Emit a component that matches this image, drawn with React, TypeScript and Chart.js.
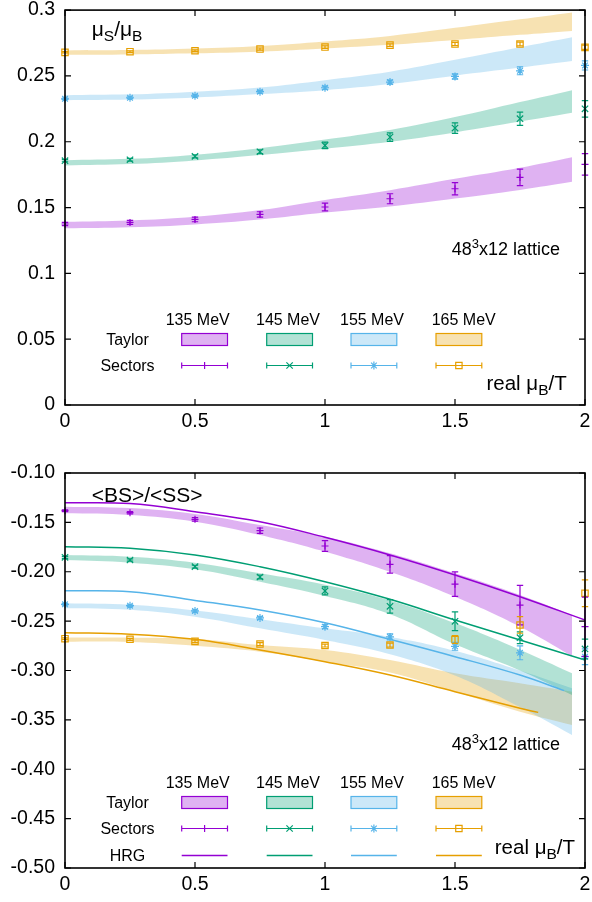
import React, { useEffect, useRef } from "react";
import { Chart, registerables } from "chart.js";
import { drawPoint } from "chart.js/helpers";
Chart.register(...registerables);

const FONT = '"Liberation Sans", Arial, Helvetica, sans-serif';

// ---------- shared categories ----------
const TEMPS = ["135 MeV", "145 MeV", "155 MeV", "165 MeV"];
const COLORS = ["#9400D3", "#009E73", "#56B4E9", "#E69F00"];
const FILLS = ["rgba(148,0,211,0.3)", "rgba(0,158,115,0.3)", "rgba(86,180,233,0.3)", "rgba(230,159,0,0.3)"];
const MARKERS = ["cross", "crossRot", "star", "rect"];
const MARKER_R = [3.5, 4.5, 4, 4.5];

const X_TICKS = [0, 0.5, 1, 1.5, 2];
const X_TICK_LABELS = ["0", "0.5", "1", "1.5", "2"];
const TOP_Y_TICKS = [0, 0.05, 0.1, 0.15, 0.2, 0.25, 0.3];
const TOP_Y_LABELS = ["0", "0.05", "0.1", "0.15", "0.2", "0.25", "0.3"];
const BOT_Y_TICKS = [-0.5, -0.45, -0.4, -0.35, -0.3, -0.25, -0.2, -0.15, -0.1];
const BOT_Y_LABELS = ["-0.50", "-0.45", "-0.40", "-0.35", "-0.30", "-0.25", "-0.20", "-0.15", "-0.10"];

const MU = [0, 0.25, 0.5, 0.75, 1, 1.25, 1.5, 1.75, 2];
const BAND_X = [0, 0.25, 0.5, 0.75, 1, 1.25, 1.5, 1.75, 1.95];

// ---------- top panel: mu_S / mu_B ----------
const RATIO_SECT_135 = [0.1375, 0.1387, 0.141, 0.1448, 0.1504, 0.1567, 0.1643, 0.1729, 0.1828];
const RATIO_ERR_135 = [0.0012, 0.0015, 0.0018, 0.002, 0.003, 0.0038, 0.0046, 0.0063, 0.0081];
const RATIO_SECT_145 = [0.1856, 0.1863, 0.1889, 0.1924, 0.1972, 0.2035, 0.2104, 0.2175, 0.225];
const RATIO_ERR_145 = [0.0008, 0.001, 0.0012, 0.0015, 0.0025, 0.0033, 0.004, 0.005, 0.0063];
const RATIO_SECT_155 = [0.2326, 0.2334, 0.2349, 0.238, 0.241, 0.2453, 0.2496, 0.2539, 0.258];
const RATIO_ERR_155 = [0.0006, 0.0007, 0.0008, 0.001, 0.0012, 0.0015, 0.002, 0.003, 0.0035];
const RATIO_SECT_165 = [0.2679, 0.2684, 0.2691, 0.2704, 0.2719, 0.2734, 0.2742, 0.2742, 0.2717];
const RATIO_ERR_165 = [0.0005, 0.0006, 0.0007, 0.0008, 0.001, 0.001, 0.0012, 0.0014, 0.0016];

const RATIO_LO_135 = [0.1342, 0.135, 0.1372, 0.1409, 0.1462, 0.1508, 0.1568, 0.1634, 0.1696];
const RATIO_HI_135 = [0.1392, 0.1402, 0.143, 0.1481, 0.1558, 0.1632, 0.1718, 0.1802, 0.1882];
const RATIO_LO_145 = [0.182, 0.183, 0.1858, 0.1899, 0.1947, 0.2, 0.2071, 0.2153, 0.222];
const RATIO_HI_145 = [0.186, 0.187, 0.1902, 0.1951, 0.2017, 0.209, 0.2187, 0.2301, 0.2392];
const RATIO_LO_155 = [0.2316, 0.232, 0.2336, 0.2362, 0.2392, 0.2438, 0.2502, 0.2563, 0.2613];
const RATIO_HI_155 = [0.2354, 0.236, 0.238, 0.2412, 0.2468, 0.2532, 0.2622, 0.2717, 0.2793];
const RATIO_LO_165 = [0.266, 0.2663, 0.2672, 0.2684, 0.2708, 0.2736, 0.2773, 0.2812, 0.2842];
const RATIO_HI_165 = [0.2694, 0.2697, 0.2708, 0.2728, 0.2762, 0.2804, 0.2865, 0.293, 0.2982];

// ---------- bottom panel: <BS>/<SS> ----------
const BS_SECT_135 = [-0.1382, -0.1402, -0.1469, -0.1584, -0.1739, -0.1925, -0.2126, -0.2337, -0.2556];
const BS_ERR_135 = [0.001, 0.0012, 0.0018, 0.0027, 0.0054, 0.0088, 0.0124, 0.02, 0.03];
const BS_SECT_145 = [-0.1854, -0.1881, -0.1949, -0.2053, -0.2194, -0.235, -0.2502, -0.2668, -0.2782];
const BS_ERR_145 = [0.001, 0.0012, 0.0015, 0.002, 0.004, 0.0068, 0.0095, 0.006, 0.01];
const BS_SECT_155 = [-0.233, -0.2344, -0.2397, -0.2468, -0.2556, -0.266, -0.2755, -0.2821, -0.286];
const BS_ERR_155 = [0.0008, 0.001, 0.0012, 0.0015, 0.002, 0.003, 0.004, 0.007, 0.008];
const BS_SECT_165 = [-0.2678, -0.2684, -0.2705, -0.2732, -0.2747, -0.2742, -0.2686, -0.2539, -0.2218];
const BS_ERR_165 = [0.0008, 0.001, 0.0012, 0.0015, 0.0015, 0.002, 0.004, 0.0084, 0.0135];

const BS_HI_135 = [-0.1341, -0.1355, -0.1415, -0.1527, -0.1645, -0.1813, -0.2016, -0.2235, -0.2438];
const BS_LO_135 = [-0.1408, -0.1425, -0.1493, -0.1628, -0.1797, -0.2, -0.2253, -0.2556, -0.2853];
const BS_HI_145 = [-0.183, -0.1847, -0.1908, -0.2016, -0.2131, -0.229, -0.252, -0.279, -0.3029];
const BS_LO_145 = [-0.1881, -0.1908, -0.1975, -0.2101, -0.2245, -0.243, -0.2735, -0.3, -0.3248];
const BS_HI_155 = [-0.232, -0.2335, -0.2392, -0.248, -0.2573, -0.266, -0.28, -0.3, -0.318];
const BS_LO_155 = [-0.237, -0.2385, -0.2455, -0.2573, -0.2691, -0.2835, -0.305, -0.337, -0.3653];
const BS_HI_165 = [-0.2668, -0.2668, -0.268, -0.2742, -0.2792, -0.2894, -0.3029, -0.313, -0.3215];
const BS_LO_165 = [-0.2708, -0.2712, -0.275, -0.281, -0.2911, -0.302, -0.3215, -0.3417, -0.3552];

const HRG_X_135 = [0, 0.25, 0.5, 0.75, 1, 1.25, 1.5, 1.75, 2];
const HRG_135 = [-0.1301, -0.131, -0.1392, -0.1493, -0.1651, -0.183, -0.2033, -0.2253, -0.2489];
const HRG_X_145 = [0, 0.25, 0.5, 0.75, 1, 1.25, 1.5, 1.75, 2];
const HRG_145 = [-0.1746, -0.1762, -0.183, -0.1949, -0.2101, -0.2279, -0.2489, -0.2691, -0.2894];
const HRG_X_155 = [0, 0.25, 0.5, 0.75, 1, 1.25, 1.5, 1.75, 1.92];
const HRG_155 = [-0.2192, -0.2202, -0.229, -0.2387, -0.2516, -0.2685, -0.286, -0.3046, -0.3204];
const HRG_X_165 = [0, 0.25, 0.5, 0.75, 1, 1.25, 1.5, 1.75, 1.82];
const HRG_165 = [-0.2617, -0.2632, -0.2684, -0.2792, -0.2911, -0.3046, -0.3215, -0.3383, -0.3424];

const ROW_LABELS = ["Taylor", "Sectors", "HRG"];

// ---------- helpers ----------
type Part = { t: string; s: number; dy?: number };

function drawRich(ctx: CanvasRenderingContext2D, parts: Part[], x: number, y: number, align: string) {
  let w = 0;
  parts.forEach((p) => {
    ctx.font = `${p.s}px ${FONT}`;
    w += ctx.measureText(p.t).width;
  });
  let cx = align === "right" ? x - w : align === "center" ? x - w / 2 : x;
  ctx.textAlign = "left";
  ctx.textBaseline = "alphabetic";
  parts.forEach((p) => {
    ctx.font = `${p.s}px ${FONT}`;
    ctx.fillText(p.t, cx, y + (p.dy || 0));
    cx += ctx.measureText(p.t).width;
  });
}

const pts = (xs: number[], ys: number[]) => xs.map((x, i) => ({ x, y: ys[i] }));

function buildDatasets(sect: number[][], errs: number[][], lo: number[][], hi: number[][], hrg: { x: number[]; y: number[] }[] | null) {
  const ds: any[] = [];
  sect.forEach((vals, k) => {
    ds.push({
      type: "line",
      label: "Sectors " + TEMPS[k],
      data: pts(MU, vals),
      showLine: false,
      pointStyle: MARKERS[k],
      pointRadius: MARKER_R[k],
      pointBorderColor: COLORS[k],
      pointBackgroundColor: "rgba(0,0,0,0)",
      pointBorderWidth: 1.2,
      borderColor: COLORS[k],
      errors: errs[k],
      clip: false,
    });
  });
  if (hrg) {
    hrg.forEach((h, k) => {
      ds.push({
        type: "line",
        label: "HRG " + TEMPS[k],
        data: pts(h.x, h.y),
        borderColor: COLORS[k],
        borderWidth: 1.5,
        pointRadius: 0,
        tension: 0.4,
        fill: false,
      });
    });
  }
  lo.forEach((l, k) => {
    ds.push({
      type: "line",
      label: "Taylor lo " + TEMPS[k],
      data: pts(BAND_X, l),
      borderWidth: 0,
      borderColor: "rgba(0,0,0,0)",
      pointRadius: 0,
      tension: 0.4,
      fill: false,
    });
    ds.push({
      type: "line",
      label: "Taylor " + TEMPS[k],
      data: pts(BAND_X, hi[k]),
      borderWidth: 0,
      borderColor: "rgba(0,0,0,0)",
      backgroundColor: FILLS[k],
      pointRadius: 0,
      tension: 0.4,
      fill: "-1",
    });
  });
  return ds;
}

const framePlugin = {
  id: "frameTicks",
  afterDraw(chart: any) {
    const { ctx, chartArea: a, scales } = chart;
    ctx.save();
    ctx.strokeStyle = "#000";
    ctx.lineWidth = 1.2;
    const L = 6;
    ctx.beginPath();
    scales.x.ticks.forEach((t: any) => {
      const px = scales.x.getPixelForValue(t.value);
      ctx.moveTo(px, a.bottom);
      ctx.lineTo(px, a.bottom - L);
      ctx.moveTo(px, a.top);
      ctx.lineTo(px, a.top + L);
    });
    scales.y.ticks.forEach((t: any) => {
      const py = scales.y.getPixelForValue(t.value);
      ctx.moveTo(a.left, py);
      ctx.lineTo(a.left + L, py);
      ctx.moveTo(a.right, py);
      ctx.lineTo(a.right - L, py);
    });
    ctx.stroke();
    ctx.lineWidth = 1.6;
    ctx.strokeRect(a.left, a.top, a.right - a.left, a.bottom - a.top);
    ctx.restore();
  },
};

const errorPlugin = {
  id: "errorBars",
  afterDatasetsDraw(chart: any) {
    const { ctx, scales } = chart;
    chart.data.datasets.forEach((ds: any) => {
      if (!ds.errors) return;
      ctx.save();
      ctx.strokeStyle = ds.borderColor;
      ctx.lineWidth = 1.2;
      ds.data.forEach((p: any, j: number) => {
        const e = ds.errors[j];
        const px = scales.x.getPixelForValue(p.x);
        const y1 = scales.y.getPixelForValue(p.y - e);
        const y2 = scales.y.getPixelForValue(p.y + e);
        const c = 3.2;
        ctx.beginPath();
        ctx.moveTo(px, y1);
        ctx.lineTo(px, y2);
        ctx.moveTo(px - c, y1);
        ctx.lineTo(px + c, y1);
        ctx.moveTo(px - c, y2);
        ctx.lineTo(px + c, y2);
        ctx.stroke();
      });
      ctx.restore();
    });
  },
};

type Decor = {
  title: Part[];
  titlePos: [number, number];
  latticePos: [number, number];
  xlabelPos: [number, number];
  hasHRG: boolean;
};

const LEGEND_HEAD_X = [132.7, 223, 307, 398.7];
const LEGEND_SW_X = [116.7, 201.7, 286, 371];
const LEGEND_SW_W = 45.8;

function decorPlugin(d: Decor) {
  return {
    id: "decor",
    afterDraw(chart: any) {
      const { ctx, chartArea: a } = chart;
      ctx.save();
      ctx.fillStyle = "#000";
      drawRich(ctx, d.title, a.left + d.titlePos[0], a.top + d.titlePos[1], "left");
      drawRich(
        ctx,
        [
          { t: "48", s: 18 },
          { t: "3", s: 13, dy: -7.5 },
          { t: "x12 lattice", s: 18 },
        ],
        a.left + d.latticePos[0],
        a.top + d.latticePos[1],
        "left"
      );
      drawRich(
        ctx,
        [
          { t: "real μ", s: 20.5 },
          { t: "B", s: 15.5, dy: 5 },
          { t: "/T", s: 20.5 },
        ],
        a.right + d.xlabelPos[0],
        a.bottom + d.xlabelPos[1],
        "right"
      );
      // legend
      const B = a.bottom;
      const rows = [B - 65.5, B - 39.5, B - 12.5];
      TEMPS.forEach((t, k) => {
        drawRich(ctx, [{ t, s: 16 }], a.left + LEGEND_HEAD_X[k], B - 80.5, "center");
      });
      const nRows = d.hasHRG ? 3 : 2;
      for (let r = 0; r < nRows; r++) {
        ctx.fillStyle = "#000";
        drawRich(ctx, [{ t: ROW_LABELS[r], s: 16 }], a.left + 62.5, rows[r] + 5.7, "center");
      }
      TEMPS.forEach((_, k) => {
        const x1 = a.left + LEGEND_SW_X[k];
        const x2 = x1 + LEGEND_SW_W;
        // Taylor swatch
        ctx.fillStyle = FILLS[k];
        ctx.fillRect(x1, rows[0] - 6, LEGEND_SW_W, 12);
        ctx.strokeStyle = COLORS[k];
        ctx.lineWidth = 1.2;
        ctx.strokeRect(x1, rows[0] - 6, LEGEND_SW_W, 12);
        // Sectors sample
        const ys = rows[1];
        ctx.beginPath();
        ctx.moveTo(x1, ys);
        ctx.lineTo(x2, ys);
        ctx.moveTo(x1, ys - 3);
        ctx.lineTo(x1, ys + 3);
        ctx.moveTo(x2, ys - 3);
        ctx.lineTo(x2, ys + 3);
        ctx.stroke();
        ctx.fillStyle = "rgba(0,0,0,0)";
        ctx.lineWidth = 1.2;
        drawPoint(ctx, { pointStyle: MARKERS[k], radius: MARKER_R[k], rotation: 0, borderWidth: 1.2 } as any, (x1 + x2) / 2, ys);
        if (d.hasHRG) {
          ctx.beginPath();
          ctx.lineWidth = 1.5;
          ctx.moveTo(x1, rows[2]);
          ctx.lineTo(x2, rows[2]);
          ctx.stroke();
        }
      });
      ctx.restore();
    },
  };
}

function makeConfig(opts: {
  datasets: any[];
  yMin: number;
  yMax: number;
  yTicks: number[];
  yLabels: string[];
  padTop: number;
  xAxisH: number;
  decor: Decor;
}) {
  return {
    type: "line",
    data: { datasets: opts.datasets },
    options: {
      responsive: false,
      animation: false,
      events: [],
      layout: { padding: { top: opts.padTop, right: 7, left: 0, bottom: 0 } },
      plugins: {
        legend: { display: false },
        tooltip: { enabled: false },
        filler: { drawTime: "beforeDatasetsDraw", propagate: false },
      },
      scales: {
        x: {
          type: "linear",
          min: 0,
          max: 2,
          grid: { display: false, drawTicks: false },
          border: { display: false },
          ticks: {
            font: { family: FONT, size: 19.5, lineHeight: 1.7 },
            color: "#000",
            padding: 0,
            maxRotation: 0,
            autoSkip: false,
            callback: (_v: any, i: number) => X_TICK_LABELS[i],
          },
          afterBuildTicks: (s: any) => {
            s.ticks = X_TICKS.map((v) => ({ value: v }));
          },
          afterFit: (s: any) => {
            s.height = opts.xAxisH;
          },
        },
        y: {
          type: "linear",
          min: opts.yMin,
          max: opts.yMax,
          grid: { display: false, drawTicks: false },
          border: { display: false },
          ticks: {
            font: { family: FONT, size: 19.5, lineHeight: 0.01 },
            color: "#000",
            padding: 10,
            autoSkip: false,
            callback: (_v: any, i: number) => opts.yLabels[i],
          },
          afterBuildTicks: (s: any) => {
            s.ticks = opts.yTicks.map((v) => ({ value: v }));
          },
          afterFit: (s: any) => {
            s.width = 65;
          },
        },
      },
    },
    plugins: [framePlugin, errorPlugin, decorPlugin(opts.decor)],
  };
}

export default function App() {
  const topRef = useRef<HTMLCanvasElement>(null);
  const botRef = useRef<HTMLCanvasElement>(null);

  useEffect(() => {
    const topDs = buildDatasets(
      [RATIO_SECT_135, RATIO_SECT_145, RATIO_SECT_155, RATIO_SECT_165],
      [RATIO_ERR_135, RATIO_ERR_145, RATIO_ERR_155, RATIO_ERR_165],
      [RATIO_LO_135, RATIO_LO_145, RATIO_LO_155, RATIO_LO_165],
      [RATIO_HI_135, RATIO_HI_145, RATIO_HI_155, RATIO_HI_165],
      null
    );
    const botDs = buildDatasets(
      [BS_SECT_135, BS_SECT_145, BS_SECT_155, BS_SECT_165],
      [BS_ERR_135, BS_ERR_145, BS_ERR_155, BS_ERR_165],
      [BS_LO_135, BS_LO_145, BS_LO_155, BS_LO_165],
      [BS_HI_135, BS_HI_145, BS_HI_155, BS_HI_165],
      [
        { x: HRG_X_135, y: HRG_135 },
        { x: HRG_X_145, y: HRG_145 },
        { x: HRG_X_155, y: HRG_155 },
        { x: HRG_X_165, y: HRG_165 },
      ]
    );
    const c1 = new Chart(
      topRef.current as HTMLCanvasElement,
      makeConfig({
        datasets: topDs,
        yMin: 0,
        yMax: 0.3,
        yTicks: TOP_Y_TICKS,
        yLabels: TOP_Y_LABELS,
        padTop: 10,
        xAxisH: 35,
        decor: {
          title: [
            { t: "μ", s: 21 },
            { t: "S", s: 15.5, dy: 5 },
            { t: "/μ", s: 21 },
            { t: "B", s: 15.5, dy: 5 },
          ],
          titlePos: [26.7, 25.5],
          latticePos: [386.7, 245],
          xlabelPos: [-18.3, -15],
          hasHRG: false,
        },
      }) as any
    );
    const c2 = new Chart(
      botRef.current as HTMLCanvasElement,
      makeConfig({
        datasets: botDs,
        yMin: -0.5,
        yMax: -0.1,
        yTicks: BOT_Y_TICKS,
        yLabels: BOT_Y_LABELS,
        padTop: 33,
        xAxisH: 34,
        decor: {
          title: [{ t: "<BS>/<SS>", s: 21 }],
          titlePos: [26.7, 29],
          latticePos: [386.7, 277],
          xlabelPos: [-10, -13.7],
          hasHRG: true,
        },
      }) as any
    );
    return () => {
      c1.destroy();
      c2.destroy();
    };
  }, []);

  return (
    <div style={{ position: "absolute", left: 0, top: 0, width: 592, height: 902, background: "#fff" }}>
      <canvas ref={topRef} width={592} height={440} style={{ position: "absolute", left: 0, top: 0, display: "block" }} />
      <canvas ref={botRef} width={592} height={462} style={{ position: "absolute", left: 0, top: 440, display: "block" }} />
    </div>
  );
}
